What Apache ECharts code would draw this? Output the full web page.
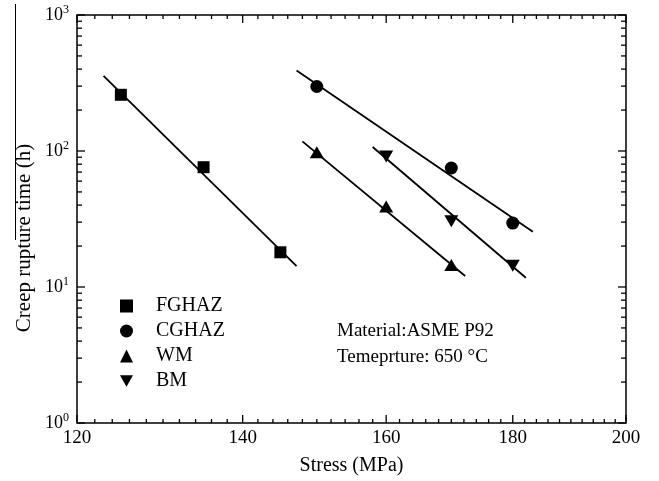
<!DOCTYPE html>
<html><head><meta charset="utf-8">
<script src="https://cdn.jsdelivr.net/npm/echarts@6/dist/echarts.min.js"></script>
<style>html,body{margin:0;padding:0;background:#fff}#c{width:659px;height:481px}</style>
</head><body><div id="c"></div>
<script>
// ---- data ----
const xTickLabels = [120, 140, 160, 180, 200];
const xMinorStep = 2;
const yTickValues = [1, 10, 100, 1000];

const seriesNames = ['FGHAZ', 'CGHAZ', 'WM', 'BM'];

const fgStress = [125, 135, 145];
const fgTime = [259, 76, 18];
const cgStress = [150, 170, 180];
const cgTime = [298, 75, 29.5];
const wmStress = [150, 160, 170];
const wmTime = [98, 39, 14.5];
const bmStress = [160, 170, 180];
const bmTime = [91, 30.5, 14.3];

const fgFitStress = [123, 147.2];
const fgFitTime = [357, 14.25];
const cgFitStress = [147.2, 183.4];
const cgFitTime = [390, 25.5];
const wmFitStress = [148, 172.2];
const wmFitTime = [117.7, 12.04];
const bmFitStress = [158, 182.2];
const bmFitTime = [107, 11.7];

const noteLines = ['Material:ASME P92', 'Temeprture: 650 \u00B0C'];

// ---- chart ----
const FONT = 'Liberation Serif';
const pairs = (xs, ys) => xs.map((x, i) => [x, ys[i]]);
const chart = echarts.init(document.getElementById('c'), null, {renderer: 'canvas'});

const fitLine = (name, xs, ys) => ({
  name: name + ' fit', type: 'line', data: pairs(xs, ys), symbol: 'none',
  lineStyle: {color: '#000', width: 1.8}, silent: true, z: 2
});
const pts = (name, xs, ys, symbol, size) => ({
  name: name, type: 'scatter', data: pairs(xs, ys), symbol: symbol, symbolSize: size,
  itemStyle: {color: '#000', opacity: 1}, z: 3
});
const downTri = 'path://M0,0L10,0L5,9Z';

const option = {
  animation: false,
  backgroundColor: '#fff',
  textStyle: {fontFamily: FONT, color: '#000'},
  grid: {left: 77, top: 15, width: 549, height: 409, show: true, borderColor: '#000', borderWidth: 1.5, backgroundColor: 'transparent'},
  xAxis: {
    type: 'log', min: 120, max: 200, logBase: 10,
    name: 'Stress (MPa)', nameLocation: 'middle', nameGap: 33,
    nameTextStyle: {fontFamily: FONT, fontSize: 20, color: '#000'},
    axisLine: {show: false}, axisTick: {show: false}, axisLabel: {show: false}, splitLine: {show: false}
  },
  yAxis: {
    type: 'log', min: 1, max: 1000, logBase: 10, interval: 1,
    axisLine: {show: false}, axisTick: {show: false}, splitLine: {show: false},
    axisLabel: {
      margin: 8,
      formatter: v => '{a|10}{b|' + Math.round(Math.log10(v)) + '}',
      rich: {
        a: {fontFamily: FONT, fontSize: 18, color: '#000'},
        b: {fontFamily: FONT, fontSize: 12, color: '#000', padding: [0, 0, 10, 0]}
      }
    }
  },
  legend: {
    data: seriesNames, orient: 'vertical', left: 115, top: 291,
    itemWidth: 13, itemHeight: 13, itemGap: 5,
    formatter: n => '{n|' + n + '}',
    textStyle: {fontFamily: FONT, fontSize: 20, color: '#000',
      rich: {n: {fontFamily: FONT, fontSize: 20, color: '#000', padding: [0, 0, 0, 18], lineHeight: 20}}},
    selectedMode: false
  },
  series: [
    fitLine('FGHAZ', fgFitStress, fgFitTime),
    fitLine('CGHAZ', cgFitStress, cgFitTime),
    fitLine('WM', wmFitStress, wmFitTime),
    fitLine('BM', bmFitStress, bmFitTime),
    pts('FGHAZ', fgStress, fgTime, 'rect', 12),
    pts('CGHAZ', cgStress, cgTime, 'circle', 13),
    pts('WM', wmStress, wmTime, 'triangle', [14, 12]),
    pts('BM', bmStress, bmTime, downTri, [14, 12])
  ]
};
chart.setOption(option);

// ---- ticks, x labels, annotations via library coordinate conversion ----
const px = v => chart.convertToPixel({xAxisIndex: 0}, v);
const py = v => chart.convertToPixel({yAxisIndex: 0}, v);
const xl = px(120), xr = px(200), yb = py(1), yt = py(1000);
const g = [];
const line = (x1, y1, x2, y2) => g.push({type: 'line', silent: true,
  shape: {x1, y1, x2, y2}, style: {stroke: '#000', lineWidth: 1.3}});

for (let v = xTickLabels[0]; v <= xTickLabels[xTickLabels.length - 1] + 1e-9; v += xMinorStep) {
  const isMajor = xTickLabels.indexOf(v) >= 0;
  const len = isMajor ? 8 : 4;
  const x = px(v);
  line(x, yb, x, yb - len);
  line(x, yt, x, yt + len);
}
for (let e = 0; e < yTickValues.length; e++) {
  const base = yTickValues[e];
  const mults = e === yTickValues.length - 1 ? [1] : [1, 2, 3, 4, 5, 6, 7, 8, 9];
  mults.forEach(m => {
    const y = py(base * m);
    const len = m === 1 ? 8 : 5;
    line(xl, y, xl + len, y);
    line(xr, y, xr - len, y);
  });
}
xTickLabels.forEach(v => g.push({type: 'text', silent: true, x: px(v), y: yb + 15,
  style: {text: String(v), align: 'center', verticalAlign: 'middle', fontFamily: FONT, fontSize: 19, fill: '#000'}}));

g.push({type: 'text', silent: true, x: 24, y: 238, rotation: Math.PI / 2,
  style: {text: 'Creep rupture time (h)', align: 'center', verticalAlign: 'middle', fontFamily: FONT, fontSize: 21, fill: '#000'}});
g.push({type: 'line', silent: true, shape: {x1: 15.5, y1: 4, x2: 15.5, y2: 240}, style: {stroke: '#000', lineWidth: 1}});

noteLines.forEach((t, i) => g.push({type: 'text', silent: true, x: 337, y: 331 + i * 26,
  style: {text: t, align: 'left', verticalAlign: 'middle', fontFamily: FONT, fontSize: 19, fill: '#000'}}));

chart.setOption({graphic: g});
</script>
</body></html>
